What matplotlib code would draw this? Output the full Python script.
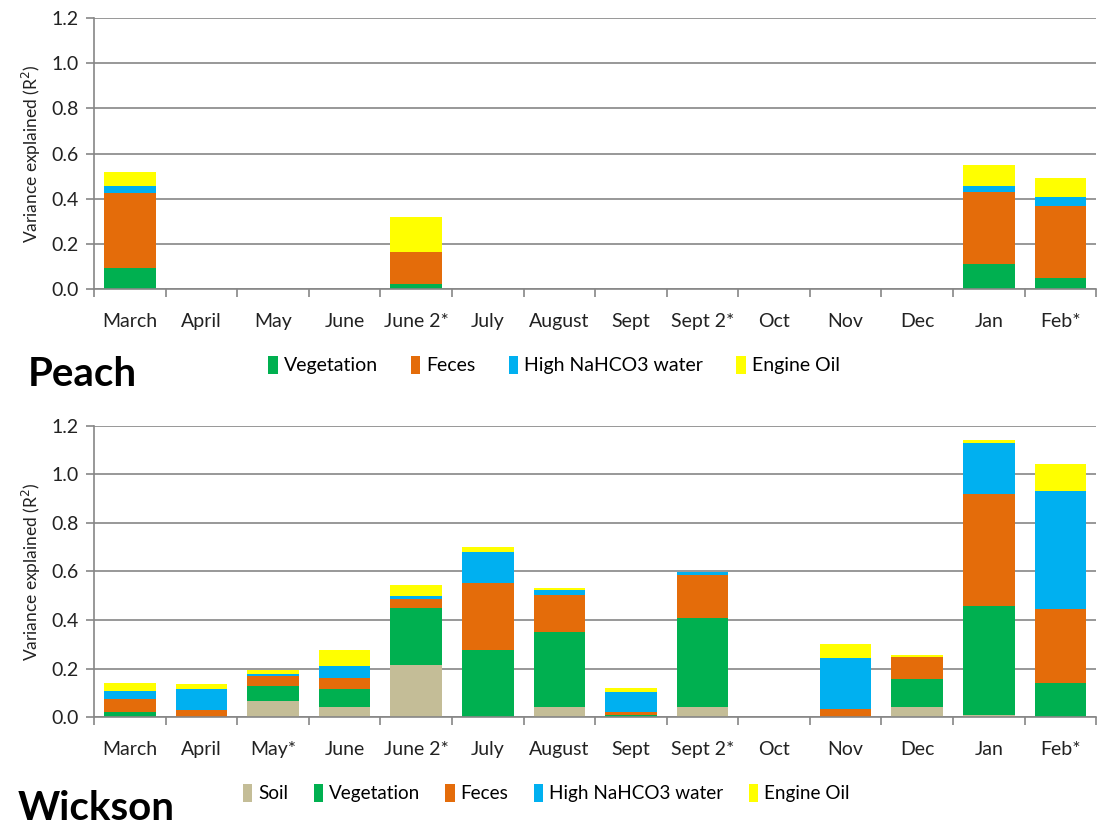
import matplotlib
matplotlib.use("Agg")
import matplotlib.pyplot as plt
import numpy as np

plt.rcParams['font.family'] = ['Lato', 'DejaVu Sans']

categories_peach = ["March", "April", "May", "June", "June 2*", "July", "August",
                    "Sept", "Sept 2*", "Oct", "Nov", "Dec", "Jan", "Feb*"]
categories_wickson = ["March", "April", "May*", "June", "June 2*", "July", "August",
                      "Sept", "Sept 2*", "Oct", "Nov", "Dec", "Jan", "Feb*"]

# Peach (segment heights)
peach_vegetation = [0.092, 0, 0, 0, 0.024, 0, 0, 0, 0, 0, 0, 0, 0.112, 0.047]
peach_feces      = [0.333, 0, 0, 0, 0.142, 0, 0, 0, 0, 0, 0, 0, 0.319, 0.319]
peach_water      = [0.030, 0, 0, 0, 0.000, 0, 0, 0, 0, 0, 0, 0, 0.024, 0.043]
peach_oil        = [0.065, 0, 0, 0, 0.154, 0, 0, 0, 0, 0, 0, 0, 0.096, 0.081]

# Wickson (segment heights)
wick_soil       = [0.000, 0.000, 0.067, 0.043, 0.216, 0.000, 0.043, 0.000, 0.043, 0, 0.000, 0.043, 0.010, 0.000]
wick_vegetation = [0.022, 0.000, 0.062, 0.072, 0.235, 0.278, 0.308, 0.007, 0.367, 0, 0.000, 0.112, 0.448, 0.142]
wick_feces      = [0.052, 0.027, 0.041, 0.047, 0.034, 0.273, 0.154, 0.014, 0.176, 0, 0.034, 0.094, 0.463, 0.302]
wick_water      = [0.035, 0.088, 0.007, 0.047, 0.013, 0.128, 0.020, 0.081, 0.011, 0, 0.209, 0.000, 0.209, 0.487]
wick_oil        = [0.033, 0.020, 0.018, 0.067, 0.048, 0.021, 0.007, 0.019, 0.000, 0, 0.059, 0.005, 0.012, 0.111]

yticks = [0.0, 0.2, 0.4, 0.6, 0.8, 1.0, 1.2]

C_SOIL = "#C4BD97"
C_VEG = "#00B050"
C_FEC = "#E46C0A"
C_WAT = "#00B0F0"
C_OIL = "#FFFF00"

fig = plt.figure(figsize=(11, 8.27), dpi=100)
ax1 = fig.add_axes([0.0855, 0.6505, 0.911, 0.3277])
ax2 = fig.add_axes([0.0855, 0.1330, 0.911, 0.3519])


def style(ax, cats):
    n = len(cats)
    ax.set_xlim(-0.5, n - 0.5)
    ax.set_ylim(0, 1.2)
    ax.set_yticks(yticks)
    ax.set_yticklabels([f"{v:.1f}" for v in yticks], fontsize=14, color="#222222")
    ax.set_xticks(np.arange(n))
    ax.set_xticklabels(cats, fontsize=14, color="#222222")
    ax.set_xticks(np.arange(n + 1) - 0.5, minor=True)
    ax.tick_params(axis='x', which='major', length=0, pad=17)
    ax.tick_params(axis='x', which='minor', length=6, color="#868686", width=1.2)
    ax.tick_params(axis='y', length=6, color="#868686", width=1.2, pad=5)
    ax.grid(axis='y', color="#868686", linewidth=1.2)
    ax.set_axisbelow(True)
    for s in ['top', 'right']:
        ax.spines[s].set_visible(False)
    for s in ['left', 'bottom']:
        ax.spines[s].set_color("#868686")
        ax.spines[s].set_linewidth(1.2)
    ax.set_ylabel("Variance explained (R$^2$)", fontsize=12.5, color="#222222", labelpad=6)


w = 0.72
x = np.arange(len(categories_peach))
b = np.zeros(len(x))
hs = []
for vals, col, lab in [(peach_vegetation, C_VEG, "Vegetation"), (peach_feces, C_FEC, "Feces"),
                       (peach_water, C_WAT, "High NaHCO3 water"), (peach_oil, C_OIL, "Engine Oil")]:
    h = ax1.bar(x, vals, w, bottom=b, color=col, label=lab, linewidth=0)
    hs.append(h)
    b = b + np.array(vals)
style(ax1, categories_peach)

b = np.zeros(len(x))
hs2 = []
for vals, col, lab in [(wick_soil, C_SOIL, "Soil"), (wick_vegetation, C_VEG, "Vegetation"),
                       (wick_feces, C_FEC, "Feces"), (wick_water, C_WAT, "High NaHCO3 water"),
                       (wick_oil, C_OIL, "Engine Oil")]:
    h = ax2.bar(x, vals, w, bottom=b, color=col, label=lab, linewidth=0)
    hs2.append(h)
    b = b + np.array(vals)
style(ax2, categories_wickson)

leg_kw = dict(frameon=False, handlelength=0.5, handleheight=1.1,
              handletextpad=0.3, borderaxespad=0, borderpad=0)
fig.legend(handles=hs, labels=[h.get_label() for h in hs], ncol=4, fontsize=14, columnspacing=1.7,
           loc='center left', bbox_to_anchor=(268 / 1100, 1 - 365 / 827), **leg_kw)
fig.legend(handles=hs2, labels=[h.get_label() for h in hs2], ncol=5, fontsize=13.6, columnspacing=1.35,
           loc='center left', bbox_to_anchor=(243 / 1100, 1 - 793 / 827), **leg_kw)

fig.text(28 / 1100, 1 - 374 / 827, "Peach", fontsize=29, fontweight='bold', va='center', ha='left')
fig.text(18 / 1100, 1 - 808 / 827, "Wickson", fontsize=29, fontweight='bold', va='center', ha='left')

fig.savefig("out.png", dpi=100)
